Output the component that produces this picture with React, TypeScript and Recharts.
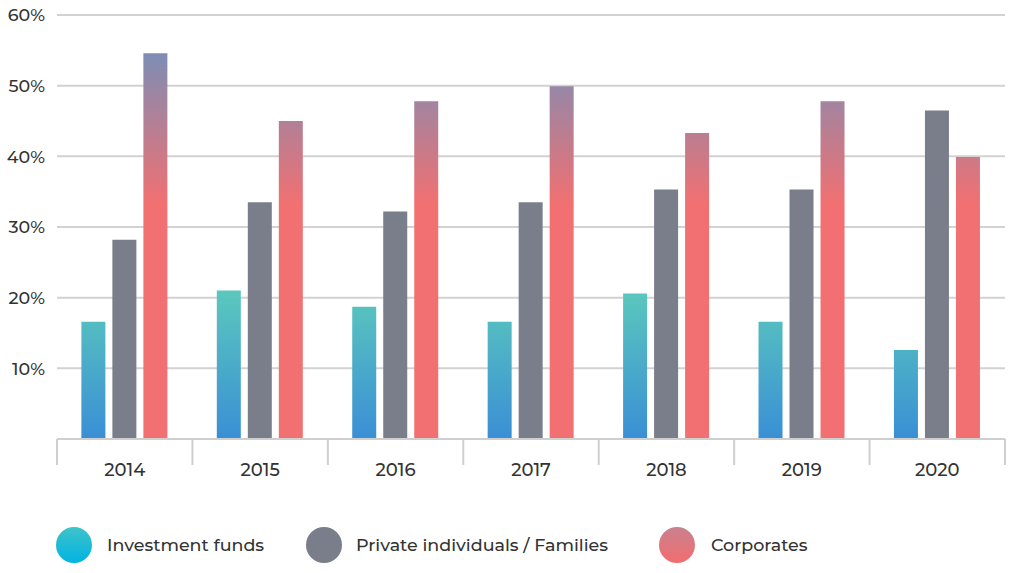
import { BarChart, Bar, XAxis, YAxis, CartesianGrid, Legend } from 'recharts'

const years = ['2014', '2015', '2016', '2017', '2018', '2019', '2020']
const investmentFunds = [16.6, 21.0, 18.7, 16.6, 20.6, 16.6, 12.6]
const privateFamilies = [28.2, 33.5, 32.2, 33.5, 35.3, 35.3, 46.5]
const corporates = [54.6, 45.0, 47.8, 49.9, 43.3, 47.8, 39.9]
const yTicks = [0, 10, 20, 30, 40, 50, 60]

const data = years.map((year, i) => ({
  year,
  funds: investmentFunds[i],
  private: privateFamilies[i],
  corporates: corporates[i],
}))

const legendItems = [
  { label: 'Investment funds', fill: 'url(#legendFunds)', x: 56, textX: 107 },
  { label: 'Private individuals / Families', fill: '#7a7d8a', x: 306, textX: 356 },
  { label: 'Corporates', fill: 'url(#legendCorp)', x: 659, textX: 711 },
]

const FONT = 'Montserrat, "Open Sans", Lato, sans-serif'

const PLOT_LEFT = 57
const PLOT_RIGHT = 1005
const band = (PLOT_RIGHT - PLOT_LEFT) / years.length

function YearTick(props: any) {
  const { x, y, payload, index } = props
  const left = x - band / 2
  return (
    <g>
      <line x1={left} y1={y - 8} x2={left} y2={y + 18} stroke="#cfcfcf" strokeWidth={2} />
      {index === years.length - 1 && (
        <line x1={x + band / 2} y1={y - 8} x2={x + band / 2} y2={y + 18} stroke="#cfcfcf" strokeWidth={2} />
      )}
      <text x={x} y={y + 29} textAnchor="middle" fill="#333" fontSize={18} fontWeight={500} fontFamily={FONT}>
        {payload.value}
      </text>
    </g>
  )
}

function LegendContent() {
  return (
    <svg width={1024} height={84} style={{ display: 'block' }}>
      <defs>
        <linearGradient id="legendFunds" x1="0" y1="0" x2="0" y2="1">
          <stop offset="0%" stopColor="#3fc3c9" />
          <stop offset="100%" stopColor="#00b3e3" />
        </linearGradient>
        <linearGradient id="legendCorp" x1="0" y1="0" x2="0" y2="1">
          <stop offset="0%" stopColor="#c9818e" />
          <stop offset="100%" stopColor="#f26d70" />
        </linearGradient>
      </defs>
      {legendItems.map((item) => (
        <g key={item.label}>
          <circle cx={item.x + 18} cy={56} r={18} fill={item.fill} />
          <text x={item.textX} y={62} fill="#333" fontSize={17.5} fontWeight={500} fontFamily={FONT}>
            {item.label}
          </text>
        </g>
      ))}
    </svg>
  )
}

export default function App() {
  return (
    <div style={{ position: 'absolute', left: 0, top: 0, width: 1024, height: 573, background: '#fff' }}>
      <BarChart
        width={1024}
        height={573}
        data={data}
        margin={{ top: 15, right: 19, left: 0, bottom: 0 }}
        barCategoryGap="18%"
        barGap={7}
      >
        <defs>
          <linearGradient id="fundsGrad" gradientUnits="userSpaceOnUse" x1="0" y1="290" x2="0" y2="439">
            <stop offset="0%" stopColor="#5bc8bd" />
            <stop offset="100%" stopColor="#3a8fd5" />
          </linearGradient>
          <linearGradient id="corpGrad" gradientUnits="userSpaceOnUse" x1="0" y1="55" x2="0" y2="205">
            <stop offset="0%" stopColor="#7f8db4" />
            <stop offset="100%" stopColor="#f27071" />
          </linearGradient>
        </defs>
        <CartesianGrid vertical={false} stroke="#d2d2d2" strokeWidth={2} />
        <XAxis
          dataKey="year"
          axisLine={{ stroke: '#cfcfcf', strokeWidth: 2 }}
          tickLine={false}
          tick={<YearTick />}
          interval={0}
          height={50}
        />
        <YAxis
          domain={[0, 60]}
          ticks={yTicks}
          width={57}
          axisLine={false}
          tickLine={false}
          tickSize={0}
          tickMargin={12}
          tick={{ fill: '#333', fontSize: 17.5, fontWeight: 500, fontFamily: FONT }}
          tickFormatter={(v: number) => (v === 0 ? '' : `${v}%`)}
        />
        <Legend verticalAlign="bottom" height={84} content={<LegendContent />} />
        <Bar dataKey="funds" name="Investment funds" fill="url(#fundsGrad)" isAnimationActive={false} />
        <Bar dataKey="private" name="Private individuals / Families" fill="#7a7d8a" isAnimationActive={false} />
        <Bar dataKey="corporates" name="Corporates" fill="url(#corpGrad)" isAnimationActive={false} />
      </BarChart>
    </div>
  )
}
